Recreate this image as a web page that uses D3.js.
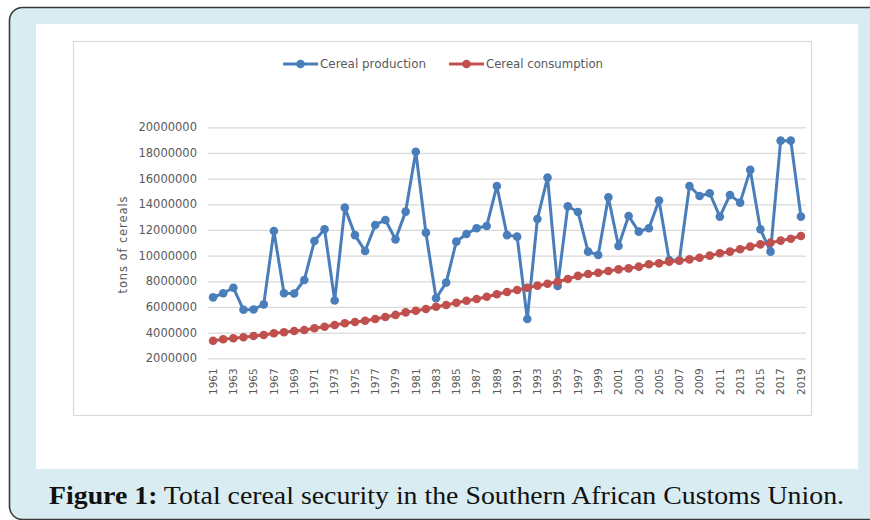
<!DOCTYPE html>
<html>
<head>
<meta charset="utf-8">
<script src="https://cdn.jsdelivr.net/npm/d3@7"></script>
<style>
  html, body { margin: 0; padding: 0; background: #ffffff; }
  svg { display: block; }
</style>
</head>
<body>
<svg id="fig" width="870" height="520"></svg>
<script>
// Years 1961–2019
const years = d3.range(1961, 2020);

// Cereal production (tons)
const production = [
  6750000, 7070000, 7500000, 5780000, 5800000, 6200000, 11920000, 7070000, 7050000, 8100000,
  11140000, 12050000, 6500000, 13740000, 11600000, 10360000, 12390000, 12780000, 11270000, 13430000,
  18100000, 11790000, 6680000, 7900000, 11090000, 11690000, 12130000, 12310000, 15430000, 11600000,
  11480000, 5060000, 12860000, 16080000, 7630000, 13850000, 13400000, 10310000, 10050000, 14550000,
  10750000, 13090000, 11870000, 12130000, 14290000, 9660000, 9620000, 15430000, 14650000, 14860000,
  13040000, 14730000, 14130000, 16680000, 12050000, 10310000, 18960000, 18960000, 13040000
];

// Cereal consumption (tons)
const consumption = [
  3370000, 3480000, 3560000, 3640000, 3740000, 3820000, 3950000, 4030000, 4130000, 4210000,
  4340000, 4460000, 4600000, 4730000, 4830000, 4930000, 5060000, 5220000, 5380000, 5580000,
  5710000, 5840000, 6020000, 6150000, 6330000, 6490000, 6620000, 6800000, 6990000, 7170000,
  7320000, 7500000, 7660000, 7810000, 7970000, 8180000, 8420000, 8570000, 8670000, 8800000,
  8930000, 9010000, 9140000, 9330000, 9400000, 9530000, 9600000, 9710000, 9840000, 10000000,
  10180000, 10310000, 10500000, 10700000, 10880000, 11010000, 11170000, 11320000, 11530000
];

const yTicks = [2000000, 4000000, 6000000, 8000000, 10000000, 12000000, 14000000, 16000000, 18000000, 20000000];
const xTickYears = years.filter(y => y % 2 === 1);

const seriesNames = ["Cereal production", "Cereal consumption"];
const seriesColors = ["#4a7ebb", "#c0504d"];
const yTitle = "tons of cereals";
const caption = { bold: "Figure 1:", rest: " Total cereal security in the Southern African Customs Union." };

const svg = d3.select("#fig");

// Page frame: pale blue panel with dark rounded outline
svg.append("rect")
  .attr("x", 9.5).attr("y", 7.5)
  .attr("width", 880).attr("height", 512)
  .attr("rx", 13).attr("ry", 13)
  .attr("fill", "#d9ecf1")
  .attr("stroke", "#3a3a3a")
  .attr("stroke-width", 1.6);

// White figure panel
svg.append("rect")
  .attr("x", 36).attr("y", 24)
  .attr("width", 822).attr("height", 445)
  .attr("fill", "#ffffff");

// Chart area border
svg.append("rect")
  .attr("x", 73.5).attr("y", 41.5)
  .attr("width", 738).attr("height", 374)
  .attr("fill", "#ffffff")
  .attr("stroke", "#d9d9d9")
  .attr("stroke-width", 1.2);

const x = d3.scaleBand().domain(years).range([208, 806]);
const y = d3.scaleLinear().domain([2000000, 20000000]).range([358.3, 127.3]);
const cx = d => x(d) + x.bandwidth() / 2;

// Horizontal gridlines via the y axis
const yAxis = d3.axisLeft(y).tickValues(yTicks).tickSize(0).tickFormat(d3.format("d"));
const gy = svg.append("g").attr("transform", "translate(208,0)").call(yAxis);
gy.select(".domain").remove();
gy.selectAll(".tick line")
  .attr("x1", 0).attr("x2", 806 - 208)
  .attr("stroke", "#d9d9d9").attr("stroke-width", 1.2);
gy.selectAll(".tick text")
  .attr("x", -11)
  .attr("fill", "#595959")
  .style("font-family", "'DejaVu Sans', sans-serif")
  .style("font-size", "11.5px");

// X axis with rotated year labels
const xAxis = d3.axisBottom(x).tickValues(xTickYears).tickSize(0).tickFormat(d3.format("d"));
const gx = svg.append("g").attr("transform", "translate(0,358.3)").call(xAxis);
gx.select(".domain").remove();
gx.selectAll(".tick text")
  .attr("transform", "rotate(-90)")
  .attr("x", -10)
  .attr("y", 0)
  .attr("dy", "0.36em")
  .attr("text-anchor", "end")
  .attr("fill", "#595959")
  .style("font-family", "'DejaVu Sans', sans-serif")
  .style("font-size", "10.5px");

// Y axis title
svg.append("text")
  .attr("transform", "translate(127,245) rotate(-90)")
  .attr("text-anchor", "middle")
  .attr("fill", "#595959")
  .attr("textLength", 97)
  .attr("lengthAdjust", "spacing")
  .style("font-family", "'DejaVu Sans', sans-serif")
  .style("font-size", "11.5px")
  .text(yTitle);

// Series lines and markers
const series = [production, consumption];
const line = d3.line().x((d, i) => cx(years[i])).y(d => y(d));

series.forEach((vals, s) => {
  const g = svg.append("g");
  g.append("path")
    .datum(vals)
    .attr("d", line)
    .attr("fill", "none")
    .attr("stroke", seriesColors[s])
    .attr("stroke-width", 3)
    .attr("stroke-linejoin", "round");
  g.selectAll("circle")
    .data(vals)
    .join("circle")
    .attr("cx", (d, i) => cx(years[i]))
    .attr("cy", d => y(d))
    .attr("r", 4.3)
    .attr("fill", seriesColors[s]);
});

// Legend
const legendItems = [
  { x: 283, textX: 320, w: 106 },
  { x: 449, textX: 486, w: 117 }
];
legendItems.forEach((it, s) => {
  const g = svg.append("g");
  g.append("line")
    .attr("x1", it.x).attr("x2", it.x + 35)
    .attr("y1", 64).attr("y2", 64)
    .attr("stroke", seriesColors[s]).attr("stroke-width", 3);
  g.append("circle")
    .attr("cx", it.x + 17.5).attr("cy", 64).attr("r", 4.3)
    .attr("fill", seriesColors[s]);
  g.append("text")
    .attr("x", it.textX).attr("y", 64)
    .attr("dy", "0.35em")
    .attr("fill", "#595959")
    .attr("textLength", it.w)
    .attr("lengthAdjust", "spacingAndGlyphs")
    .style("font-family", "'DejaVu Sans', sans-serif")
    .style("font-size", "11.5px")
    .text(seriesNames[s]);
});

// Caption
const cap = svg.append("text")
  .attr("x", 49).attr("y", 504)
  .attr("fill", "#111111")
  .attr("textLength", 795)
  .attr("lengthAdjust", "spacingAndGlyphs")
  .style("font-family", "'Liberation Serif', serif")
  .style("font-size", "25px");
cap.append("tspan").attr("font-weight", "bold").text(caption.bold);
cap.append("tspan").text(caption.rest);
</script>
</body>
</html>
